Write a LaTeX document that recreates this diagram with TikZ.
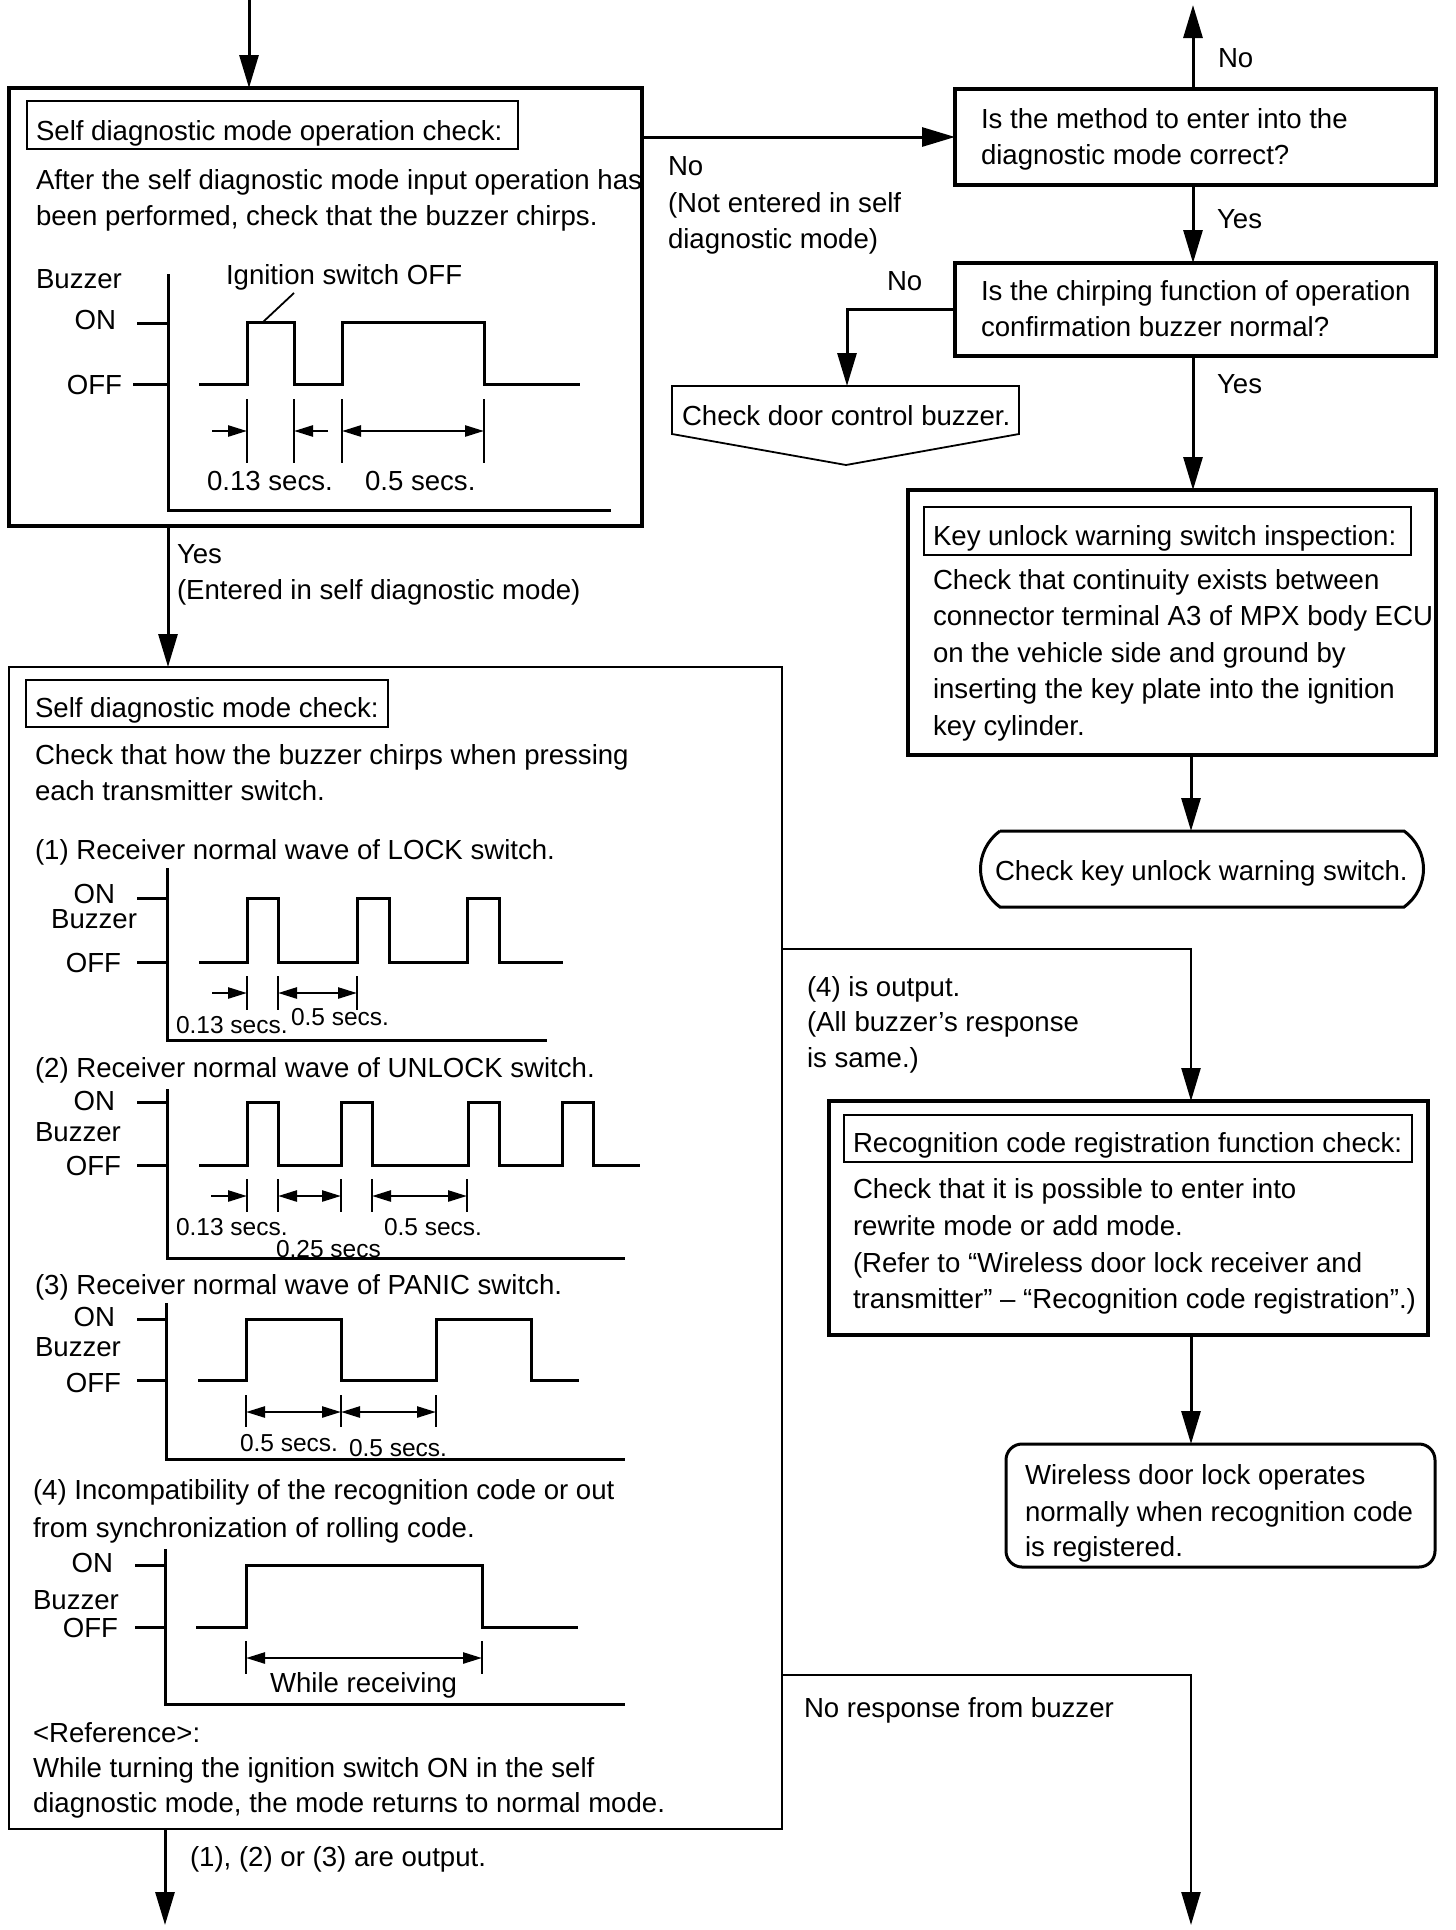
\documentclass[tikz,border=0pt]{standalone}
\usepackage{fontspec}
\setmainfont{Liberation Sans}
\usetikzlibrary{arrows.meta,calc}
\tikzset{
  every node/.style={inner sep=0pt, outer sep=0pt, font=\fontsize{27.6}{36}\selectfont},
  txt/.style={anchor=base west},
  txtr/.style={anchor=base east},
  small/.style={font=\fontsize{24.5}{30}\selectfont},
  bigbox/.style={draw, line width=3.5pt, anchor=north west},
  midbox/.style={draw, line width=2.2pt, anchor=north west},
  titlebox/.style={draw, line width=1.6pt, anchor=north west},
  shp/.style={line width=3pt},
  thinshp/.style={line width=1.8pt},
  arr/.style={line width=3pt, -{Triangle[length=33pt,width=19pt]}},
  arrthin/.style={line width=2.4pt, -{Triangle[length=33pt,width=19pt]}},
  wave/.style={line width=3pt},
  tickl/.style={line width=2.5pt},
  dimr/.style={line width=2.5pt, -{Triangle[length=19pt,width=11pt]}},
  dimb/.style={line width=2.5pt, {Triangle[length=19pt,width=11pt]}-{Triangle[length=19pt,width=11pt]}},
}
\begin{document}
\begin{tikzpicture}[x=1pt,y=-1pt]
\useasboundingbox (0,0) rectangle (1456,1930);

% ---------------- Box 1 ----------------
\node[bigbox, minimum width=633pt, minimum height=438pt] (box1) at (9,88) {};
\node[titlebox, minimum width=491pt, minimum height=48pt] (b1tbox) at (27,101) {};
\node[txt] (b1title) at (36,140) {Self diagnostic mode operation check:};
\node[txt] (b1l1) at (36,189) {After the self diagnostic mode input operation has};
\node[txt] (b1l2) at (36,225) {been performed, check that the buzzer chirps.};
\node[txt] (b1buz) at (36,288) {Buzzer};
\node[txtr] (b1on) at (116,329) {ON};
\node[txtr] (b1off) at (122,394) {OFF};
\node[txt] (b1ign) at (226,284) {Ignition switch OFF};
\node[txt] (b1d1) at (207,490) {0.13 secs.};
\node[txt] (b1d2) at (365,490) {0.5 secs.};
\draw[wave] (137,323) -- (168,323);
\draw[wave] (133,384) -- (168,384);
\draw[wave] (168,274) -- (168,510) -- (611,510);
\draw[wave] (199,384) -- (247,384) -- (247,322) -- (294,322) -- (294,384) -- (342,384) -- (342,322) -- (484,322) -- (484,384) -- (580,384);
\draw[line width=1.8pt] (294,293) -- (263,322);
\foreach \x in {247,294,342,484} \draw[tickl] (\x,399) -- (\x,463);
\draw[dimr] (212,431) -- (247,431);
\draw[dimr] (328,431) -- (294,431);
\draw[dimb] (342,431) -- (484,431);

% labels of branches from box 1
\node[txt] (yes1) at (177,563) {Yes};
\node[txt] (yes1b) at (177,599) {(Entered in self diagnostic mode)};
\node[txt] (no1) at (668,175) {No};
\node[txt] (no1b) at (668,212) {(Not entered in self};
\node[txt] (no1c) at (668,248) {diagnostic mode)};

% ---------------- Right column ----------------
\node[bigbox, minimum width=481pt, minimum height=96pt] (q1) at (955,89) {};
\node[txt] (q1a) at (981,128) {Is the method to enter into the};
\node[txt] (q1b) at (981,164) {diagnostic mode correct?};
\node[txt] (no2) at (1218,67) {No};
\node[txt] (yes2) at (1217,228) {Yes};

\node[bigbox, minimum width=481pt, minimum height=93pt] (q2) at (955,263) {};
\node[txt] (q2a) at (981,300) {Is the chirping function of operation};
\node[txt] (q2b) at (981,336) {confirmation buzzer normal?};
\node[txt] (no3) at (887,290) {No};
\node[txt] (yes3) at (1217,393) {Yes};

% off-page connector
\draw[thinshp] (672,386) -- (1019,386) -- (1019,434) -- (846,465) -- (672,434) -- cycle;
\coordinate (pent) at (847,386);
\node[txt] (cdb) at (682,425) {Check door control buzzer.};

% key unlock box
\node[bigbox, minimum width=528pt, minimum height=265pt] (ku) at (908,490) {};
\node[titlebox, minimum width=487pt, minimum height=48pt] (kutbox) at (924,507) {};
\node[txt] (kut) at (933,545) {Key unlock warning switch inspection:};
\node[txt] (ku1) at (933,589) {Check that continuity exists between};
\node[txt] (ku2) at (933,625.5) {connector terminal A3 of MPX body ECU};
\node[txt] (ku3) at (933,662) {on the vehicle side and ground by};
\node[txt] (ku4) at (933,698.5) {inserting the key plate into the ignition};
\node[txt] (ku5) at (933,735) {key cylinder.};

% terminal
\draw[shp] (1000,831) -- (1404,831) .. controls (1430,850) and (1430,888) .. (1404,907) -- (1000,907) .. controls (974,888) and (974,850) .. (1000,831);
\coordinate (termtop) at (1191,831);
\node[txt] (term) at (995,880) {Check key unlock warning switch.};

% (4) branch
\node[txt] (o4a) at (807,996) {(4) is output.};
\node[txt] (o4b) at (807,1031) {(All buzzer's response};
\node[txt] (o4c) at (807,1067) {is same.)};

% recognition box
\node[bigbox, minimum width=599pt, minimum height=234pt] (rec) at (829,1101) {};
\node[titlebox, minimum width=568pt, minimum height=47pt] (rectbox) at (844,1115) {};
\node[txt] (rect) at (853,1152) {Recognition code registration function check:};
\node[txt] (rec1) at (853,1198) {Check that it is possible to enter into};
\node[txt] (rec2) at (853,1235) {rewrite mode or add mode.};
\node[txt] (rec3) at (853,1272) {(Refer to ``Wireless door lock receiver and};
\node[txt] (rec4) at (853,1308) {transmitter'' -- ``Recognition code registration''.)};

% final box
\node[draw, line width=3pt, rounded corners=16pt, anchor=north west, minimum width=429pt, minimum height=123pt] (fin) at (1006,1444) {};
\node[txt] (fin1) at (1025,1484) {Wireless door lock operates};
\node[txt] (fin2) at (1025,1521) {normally when recognition code};
\node[txt] (fin3) at (1025,1556) {is registered.};

\node[txt] (nores) at (804,1717) {No response from buzzer};

% ---------------- Box 2 ----------------
\node[midbox, minimum width=773pt, minimum height=1162pt] (box2) at (9,667) {};
\node[titlebox, minimum width=362pt, minimum height=47pt] (b2tbox) at (26,680) {};
\node[txt] (b2title) at (35,717) {Self diagnostic mode check:};
\node[txt] (b2l1) at (35,764) {Check that how the buzzer chirps when pressing};
\node[txt] (b2l2) at (35,800) {each transmitter switch.};

% (1) LOCK
\node[txt] (w1t) at (35,859) {(1) Receiver normal wave of LOCK switch.};
\node[txtr] (w1on) at (115,903) {ON};
\node[txtr] (w1buz) at (137,928) {Buzzer};
\node[txtr] (w1off) at (121,972) {OFF};
\draw[wave] (137,898) -- (167,898);
\draw[wave] (137,962) -- (167,962);
\draw[wave] (167,868) -- (167,1040) -- (547,1040);
\draw[wave] (199,962) -- (247,962) -- (247,898) -- (278,898) -- (278,962) -- (357,962) -- (357,898) -- (389,898) -- (389,962) -- (467,962) -- (467,898) -- (499,898) -- (499,962) -- (563,962);
\foreach \x in {247,278,357} \draw[tickl] (\x,976) -- (\x,1010);
\draw[dimr] (212,993) -- (247,993);
\draw[dimb] (278,993) -- (357,993);
\node[txt, small] (w1d1) at (176,1033) {0.13 secs.};
\node[txt, small] (w1d2) at (291,1025) {0.5 secs.};

% (2) UNLOCK
\node[txt] (w2t) at (35,1077) {(2) Receiver normal wave of UNLOCK switch.};
\node[txtr] (w2on) at (115,1110) {ON};
\node[txt] (w2buz) at (35,1141) {Buzzer};
\node[txtr] (w2off) at (121,1175) {OFF};
\draw[wave] (137,1102) -- (167,1102);
\draw[wave] (137,1165) -- (167,1165);
\draw[wave] (167,1089) -- (167,1258) -- (625,1258);
\draw[wave] (199,1165) -- (247,1165) -- (247,1102) -- (278,1102) -- (278,1165) -- (341,1165) -- (341,1102) -- (372,1102) -- (372,1165) -- (468,1165) -- (468,1102) -- (499,1102) -- (499,1165) -- (562,1165) -- (562,1102) -- (593,1102) -- (593,1165) -- (640,1165);
\foreach \x in {247,278,341,372,467} \draw[tickl] (\x,1179) -- (\x,1212);
\draw[dimr] (211,1196) -- (247,1196);
\draw[dimb] (278,1196) -- (341,1196);
\draw[dimb] (372,1196) -- (467,1196);
\node[txt, small] (w2d1) at (176,1235) {0.13 secs.};
\node[txt, small] (w2d2) at (384,1235) {0.5 secs.};
\node[txt, small] (w2d3) at (276,1257) {0.25 secs};

% (3) PANIC
\node[txt] (w3t) at (35,1294) {(3) Receiver normal wave of PANIC switch.};
\node[txtr] (w3on) at (115,1326) {ON};
\node[txt] (w3buz) at (35,1356) {Buzzer};
\node[txtr] (w3off) at (121,1392) {OFF};
\draw[wave] (137,1319) -- (166,1319);
\draw[wave] (137,1380) -- (166,1380);
\draw[wave] (166,1303) -- (166,1459) -- (625,1459);
\draw[wave] (198,1380) -- (246,1380) -- (246,1319) -- (341,1319) -- (341,1380) -- (436,1380) -- (436,1319) -- (531,1319) -- (531,1380) -- (579,1380);
\foreach \x in {246,341,436} \draw[tickl] (\x,1395) -- (\x,1427);
\draw[dimb] (246,1412) -- (341,1412);
\draw[dimb] (341,1412) -- (436,1412);
\node[txt, small] (w3d1) at (240,1451) {0.5 secs.};
\node[txt, small] (w3d2) at (349,1456) {0.5 secs.};

% (4)
\node[txt] (w4t) at (33,1499) {(4) Incompatibility of the recognition code or out};
\node[txt] (w4t2) at (33,1537) {from synchronization of rolling code.};
\node[txtr] (w4on) at (113,1572) {ON};
\node[txt] (w4buz) at (33,1609) {Buzzer};
\node[txtr] (w4off) at (118,1637) {OFF};
\draw[wave] (135,1565) -- (165,1565);
\draw[wave] (135,1627) -- (165,1627);
\draw[wave] (165,1549) -- (165,1704) -- (625,1704);
\draw[wave] (196,1627) -- (246,1627) -- (246,1565) -- (482,1565) -- (482,1627) -- (578,1627);
\foreach \x in {246,482} \draw[tickl] (\x,1641) -- (\x,1674);
\draw[dimb] (246,1658) -- (482,1658);
\node[txt] (w4d) at (270,1692) {While receiving};

\node[txt] (ref0) at (33,1742) {<Reference>:};
\node[txt] (ref1) at (33,1777) {While turning the ignition switch ON in the self};
\node[txt] (ref2) at (33,1812) {diagnostic mode, the mode returns to normal mode.};

\node[txt] (out123) at (190,1866) {(1), (2) or (3) are output.};

% ---------------- Connectors ----------------
\coordinate (topin) at (249,0);
\coordinate (cL1) at (168,0);
\coordinate (cL2) at (165,0);
\coordinate (colR) at (1193,0);
\coordinate (colR2) at (1191,0);
\coordinate (upend) at (1193,5);
\coordinate (out4) at (782,949);
\coordinate (outnr) at (782,1675);
\coordinate (endR) at (1191,1925);
\coordinate (endL) at (165,1925);

\draw[arr] (topin) -- (topin |- box1.north);
\draw[arr] (box1.east |- q1.west) -- (q1.west);
\draw[arr] (cL1 |- box1.south) -- (cL1 |- box2.north);
\draw[arr] (colR |- q1.north) -- (upend);
\draw[arr] (colR |- q1.south) -- (colR |- q2.north);
\draw[arr] (q2.west) -- (q2.west -| pent) -- (pent);
\draw[arr] (colR |- q2.south) -- (colR |- ku.north);
\draw[arr] (colR2 |- ku.south) -- (termtop);
\draw[arrthin] (out4) -- (colR2 |- out4) -- (colR2 |- rec.north);
\draw[arr] (colR2 |- rec.south) -- (colR2 |- fin.north);
\draw[arrthin] (outnr) -- (colR2 |- outnr) -- (endR);
\draw[arr] (cL2 |- box2.south) -- (endL);
\end{tikzpicture}
\end{document}
